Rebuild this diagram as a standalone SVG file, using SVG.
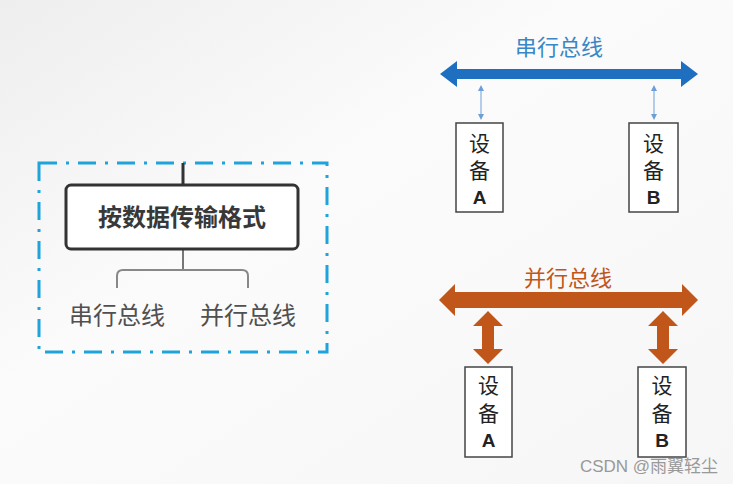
<svg xmlns="http://www.w3.org/2000/svg" width="733" height="484" viewBox="0 0 733 484">
<defs>
<style>
text{font-family:"Liberation Sans","Noto Sans CJK SC",sans-serif;text-anchor:middle}
.dev{fill:#fff;stroke:#444;stroke-width:1.5}
.dt{font-size:21px;fill:#222}
.ab{font-size:19px;fill:#222;font-weight:bold}
</style>
<linearGradient id="bg" x1="0" y1="0" x2="1" y2="1">
<stop offset="0" stop-color="#eeeeee"/>
<stop offset="0.4" stop-color="#fbfbfb"/>
<stop offset="1" stop-color="#f6f6f6"/>
</linearGradient>
</defs>
<rect width="733" height="484" fill="url(#bg)"/>

<g id="frame">
<rect x="39" y="163" width="288" height="189" fill="none" stroke="#1ea3db" stroke-width="3" stroke-dasharray="18,9,3,9"/>
</g>

<g id="connectors" fill="none">
<line x1="183" y1="163" x2="183" y2="185" stroke="#333" stroke-width="3"/>
<line x1="183" y1="249" x2="183" y2="270" stroke="#777" stroke-width="2"/>
<path d="M117,288 V276 Q117,270 123,270 H242 Q248,270 248,276 V288" stroke="#888" stroke-width="2"/>
<!-- serial bus -->
<polygon points="440,74 457,61 457,69 681,69 681,61 698,74 681,87 681,79 457,79 457,87" fill="#1f6fc0"/>
<g stroke="#6b9fd8" stroke-width="1" fill="#6b9fd8">
<line x1="481" y1="88" x2="481" y2="117"/>
<polygon points="478,91 481,85 484,91" stroke="none"/>
<polygon points="478,114 481,120 484,114" stroke="none"/>
<line x1="654" y1="88" x2="654" y2="117"/>
<polygon points="651,91 654,85 657,91" stroke="none"/>
<polygon points="651,114 654,120 657,114" stroke="none"/>
</g>
<!-- parallel bus -->
<polygon points="439,300 455,284 455,292 682,292 682,284 698,300 682,316 682,308 455,308 455,316" fill="#c0561a"/>
<polygon points="488,311 503,326 494,326 494,349 503,349 488,364 473,349 482,349 482,326 473,326" fill="#c0561a"/>
<polygon points="663,311 678,326 669,326 669,349 678,349 663,364 648,349 657,349 657,326 648,326" fill="#c0561a"/>
</g>

<g id="root">
<rect x="66" y="185" width="232" height="64" rx="5" fill="#fff" stroke="#333" stroke-width="3"/>
<text x="182" y="226" font-size="24" font-weight="bold" fill="#383838">按数据传输格式</text>
</g>
<g id="leaf-serial"><text x="117" y="324" font-size="24" fill="#505050">串行总线</text></g>
<g id="leaf-parallel"><text x="248" y="324" font-size="24" fill="#505050">并行总线</text></g>

<g id="serial-label"><text x="559" y="55" font-size="22" fill="#3a87c8">串行总线</text></g>
<g id="serial-devA">
<rect class="dev" x="456" y="123" width="47" height="89"/>
<text class="dt" x="479.5" y="151">设</text><text class="dt" x="479.5" y="178">备</text><text class="ab" x="479.5" y="204">A</text>
</g>
<g id="serial-devB">
<rect class="dev" x="629" y="123" width="49" height="89"/>
<text class="dt" x="653.5" y="151">设</text><text class="dt" x="653.5" y="178">备</text><text class="ab" x="653.5" y="204">B</text>
</g>

<g id="parallel-label"><text x="568" y="286" font-size="22" fill="#c0561a">并行总线</text></g>
<g id="parallel-devA">
<rect class="dev" x="465" y="367" width="47" height="90"/>
<text class="dt" x="488.5" y="393">设</text><text class="dt" x="488.5" y="421">备</text><text class="ab" x="488.5" y="447">A</text>
</g>
<g id="parallel-devB">
<rect class="dev" x="638" y="367" width="48" height="90"/>
<text class="dt" x="662" y="393">设</text><text class="dt" x="662" y="421">备</text><text class="ab" x="662" y="447">B</text>
</g>

<g id="watermark"><text x="649" y="472" font-size="17" fill="#999">CSDN @雨翼轻尘</text></g>
</svg>
